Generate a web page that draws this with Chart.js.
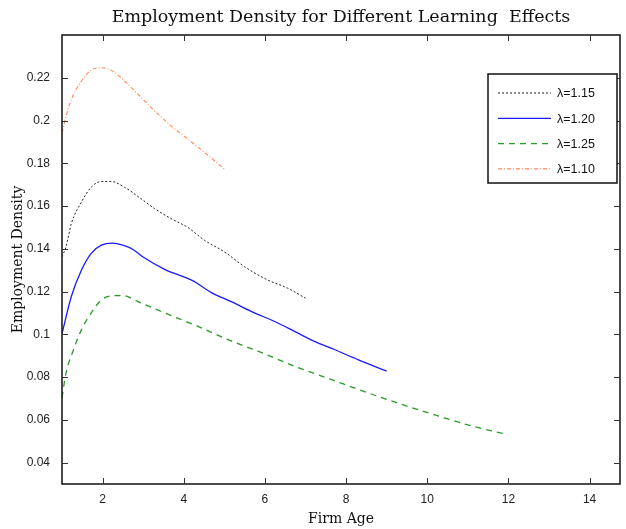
<!DOCTYPE html>
<html lang="en">
<head>
  <meta charset="UTF-8">
  <title>Employment Density for Different Learning Effects</title>
  <script src="https://cdn.jsdelivr.net/npm/chart.js"></script>
  <style>
    body { margin: 0; background: #ffffff; }
    #wrap { width: 626px; height: 529px; }
  </style>
</head>
<body>
<div id="wrap"><canvas id="densChart"></canvas></div>

<script>
  // values
  const ages115 = [1, 1.1, 1.23, 1.48, 1.72, 1.97, 2.21, 2.54, 2.95, 3.28, 3.69, 4.1, 4.51, 5.0, 5.5, 6.07, 6.56, 7.0];
  const dens115 = [0.1363, 0.141, 0.1518, 0.1619, 0.1688, 0.1715, 0.1715, 0.1688, 0.1634, 0.1588, 0.1541, 0.15, 0.144, 0.1386, 0.1316, 0.1254, 0.1216, 0.1169];

  const ages120 = [1, 1.23, 1.48, 1.72, 1.97, 2.25, 2.5, 2.75, 2.99, 3.53, 4.22, 4.68, 5.17, 5.66, 6.24, 6.73, 7.22, 7.71, 8.29, 9.0];
  const dens120 = [0.1003, 0.1177, 0.1301, 0.1379, 0.1417, 0.1427, 0.1417, 0.1397, 0.1363, 0.1304, 0.1251, 0.1195, 0.1153, 0.1107, 0.106, 0.1014, 0.0967, 0.0929, 0.0882, 0.0828];

  const ages125 = [1, 1.1, 1.27, 1.48, 1.72, 1.97, 2.3, 2.5, 2.87, 3.53, 4.35, 5.09, 5.83, 6.73, 7.63, 8.53, 9.36, 10.26, 11.08, 11.94];
  const dens125 = [0.0704, 0.082, 0.0921, 0.1022, 0.11, 0.1161, 0.1181, 0.1181, 0.1153, 0.11, 0.1037, 0.0975, 0.0921, 0.0851, 0.0789, 0.0727, 0.0673, 0.0619, 0.0572, 0.0533];

  const ages110 = [1, 1.2, 1.48, 1.72, 1.98, 2.25, 2.54, 2.87, 3.24, 3.69, 4.1, 4.51, 5.0];
  const dens110 = [0.1944, 0.2084, 0.2185, 0.2236, 0.2247, 0.2231, 0.2185, 0.2123, 0.2053, 0.1975, 0.1913, 0.1851, 0.1774];

  const seriesLabels = ['\u03bb=1.15', '\u03bb=1.20', '\u03bb=1.25', '\u03bb=1.10'];
  const xTicks = [2, 4, 6, 8, 10, 12, 14];
  const yTicks = [0.04, 0.06, 0.08, 0.1, 0.12, 0.14, 0.16, 0.18, 0.2, 0.22];
  const chartTitle = 'Employment Density for Different Learning  Effects';

  const pts = (xs, ys) => xs.map((x, i) => ({ x: x, y: ys[i] }));

  // MATLAB style box with inward ticks, title over plot area, legend inside plot
  const boxPlugin = {
    id: 'boxPlugin',
    afterDraw(chart) {
      const ctx = chart.ctx;
      const a = chart.chartArea;
      const xs = chart.scales.x, ys = chart.scales.y;
      ctx.save();
      ctx.strokeStyle = '#111';
      ctx.lineWidth = 1.5;
      ctx.strokeRect(a.left, a.top, a.right - a.left, a.bottom - a.top);
      ctx.lineWidth = 1;
      ctx.strokeStyle = '#333';
      ctx.beginPath();
      xTicks.forEach(v => {
        const px = Math.round(xs.getPixelForValue(v)) + 0.5;
        ctx.moveTo(px, a.bottom); ctx.lineTo(px, a.bottom - 6);
        ctx.moveTo(px, a.top); ctx.lineTo(px, a.top + 6);
      });
      yTicks.forEach(v => {
        const py = Math.round(ys.getPixelForValue(v)) + 0.5;
        ctx.moveTo(a.left, py); ctx.lineTo(a.left + 6, py);
        ctx.moveTo(a.right, py); ctx.lineTo(a.right - 6, py);
      });
      ctx.stroke();

      // title
      ctx.fillStyle = '#111';
      ctx.font = '17.5px "DejaVu Serif", serif';
      ctx.textAlign = 'center';
      ctx.textBaseline = 'middle';
      ctx.fillText(chartTitle, (a.left + a.right) / 2, 17);
      ctx.textAlign = 'left';

      // legend
      const lx = 488, ly = 74, lw = 129, lh = 109;
      ctx.fillStyle = '#fff';
      ctx.fillRect(lx, ly, lw, lh);
      ctx.strokeStyle = '#111';
      ctx.lineWidth = 1.5;
      ctx.strokeRect(lx, ly, lw, lh);
      ctx.font = '12.5px "Liberation Sans", Arial, sans-serif';
      ctx.textBaseline = 'middle';
      chart.data.datasets.forEach((ds, i) => {
        const yy = ly + 19 + i * 25.3;
        ctx.strokeStyle = ds.borderColor;
        ctx.lineWidth = ds.borderWidth;
        ctx.setLineDash(ds.borderDash || []);
        ctx.beginPath();
        ctx.moveTo(lx + 10, yy); ctx.lineTo(lx + 63, yy);
        ctx.stroke();
        ctx.setLineDash([]);
        ctx.fillStyle = '#111';
        ctx.fillText(ds.label, lx + 69, yy + 1);
      });
      ctx.restore();
    }
  };

  new Chart(document.getElementById('densChart'), {
    type: 'line',
    data: {
      datasets: [
        { label: seriesLabels[0], data: pts(ages115, dens115), borderColor: '#222222', borderWidth: 1, borderDash: [2, 2] },
        { label: seriesLabels[1], data: pts(ages120, dens120), borderColor: '#1a1aff', borderWidth: 1.3 },
        { label: seriesLabels[2], data: pts(ages125, dens125), borderColor: '#2a9a2a', borderWidth: 1.3, borderDash: [6, 5] },
        { label: seriesLabels[3], data: pts(ages110, dens110), borderColor: '#ff8a5c', borderWidth: 1.1, borderDash: [4, 2, 1, 2] }
      ]
    },
    options: {
      responsive: true,
      maintainAspectRatio: false,
      animation: false,
      layout: { padding: { left: 0, right: 6, top: 35, bottom: 0 } },
      elements: {
        point: { radius: 0 },
        line: { fill: false, cubicInterpolationMode: 'monotone' }
      },
      plugins: {
        legend: { display: false },
        tooltip: { enabled: false },
        title: { display: false }
      },
      scales: {
        x: {
          type: 'linear',
          min: 1,
          max: 14.75,
          afterFit: s => { s.height = 45; },
          afterBuildTicks: s => { s.ticks = xTicks.map(v => ({ value: v })); },
          grid: { display: false },
          border: { display: false },
          ticks: {
            padding: 0,
            color: '#222',
            maxRotation: 0,
            font: { family: '"Liberation Sans", Arial, sans-serif', size: 12 }
          },
          title: {
            display: true,
            text: 'Firm Age',
            color: '#111',
            font: { family: '"DejaVu Serif", serif', size: 14 },
            padding: { top: 0, bottom: 1 }
          }
        },
        y: {
          min: 0.03,
          max: 0.24,
          afterFit: s => { s.width = 62; },
          afterBuildTicks: s => { s.ticks = yTicks.map(v => ({ value: v })); },
          grid: { display: false },
          border: { display: false },
          ticks: {
            padding: 4,
            color: '#222',
            font: { family: '"Liberation Sans", Arial, sans-serif', size: 12 },
            callback: v => String(Math.round(v * 100) / 100)
          },
          title: {
            display: true,
            text: 'Employment Density',
            color: '#111',
            font: { family: '"DejaVu Serif", serif', size: 14 },
            padding: { top: 10, bottom: 0 }
          }
        }
      }
    },
    plugins: [boxPlugin]
  });
</script>
</body>
</html>
